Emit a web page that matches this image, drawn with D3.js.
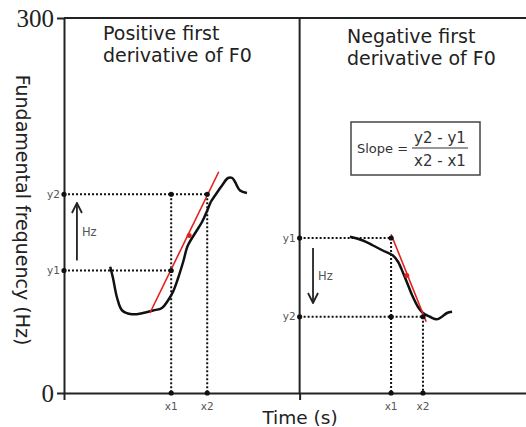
<!DOCTYPE html>
<meta charset="utf-8">
<style>
body { margin: 0; background: #fff; }
svg { font-family: "DejaVu Sans", sans-serif; }
.axis path, .axis line { stroke: #222; stroke-width: 2px; }
.frame { stroke: #222; stroke-width: 2px; fill: none; }
.guide { stroke: #111; stroke-width: 2px; stroke-dasharray: 2,2; fill: none; }
.f0 { stroke: #111; stroke-width: 2.5px; fill: none; }
.slope { stroke: #e3211c; stroke-width: 1.6px; }
.small { fill: #555; font-size: 10.5px; }
.title { fill: #222; font-size: 19px; }
</style>
<svg width="526" height="427" id="chart"></svg>
<script src="https://cdnjs.cloudflare.com/ajax/libs/d3/7.8.5/d3.min.js"></script>
<script>

// time in ms, F0 in Hz
var leftTime = [100, 106, 115, 126, 147, 171, 193, 212, 225, 236, 247, 258, 268, 284, 299, 310, 318, 327, 342, 355, 364, 370, 381, 396];
var leftF0   = [101,  92,  76,  66,  63,  64,  66,  68,  74,  81,  92, 105, 118, 128, 137, 146, 153, 158, 166, 172, 172, 169, 162, 160];

var rightTime = [619, 647, 669, 690, 712, 723, 734, 745, 755, 766, 777, 792, 807, 818, 829, 840];
var rightF0   = [125, 122, 118, 114, 110, 105,  96,  86,  77,  69,  64,  61,  59,  61,  64,  65];

var panelStart = [0, 510];
var xPoints = [[232, 310], [708, 777]];   // x1, x2 per panel
var yPoints = [[98, 159], [124, 61]];     // y1, y2 per panel
var slopeLines = [[[186, 64], [335, 177]], [[708, 127], [784, 57]]];
var slopeDots = [[271, 126], [742, 94]];
var arrows = [[28, 106, 152], [539, 116, 72]];  // time, from Hz, to Hz
var titles = [["Positive first", "derivative of F0"], ["Negative first", "derivative of F0"]];
var yTicks = [0, 300];

var svg = d3.select("svg#chart");

var x = d3.scaleLinear().domain([0, 1000]).range([64, 526]),
    y = d3.scaleLinear().domain([0, 300]).range([393, 18]);

var line = d3.line()
    .x(function(d) { return x(d[0]); })
    .y(function(d) { return y(d[1]); })
    .curve(d3.curveCatmullRom);

svg.append("defs").append("marker")
    .attr("id", "head")
    .attr("viewBox", "0 0 12 12")
    .attr("refX", 11).attr("refY", 6)
    .attr("markerWidth", 12).attr("markerHeight", 12)
    .attr("markerUnits", "userSpaceOnUse")
    .attr("orient", "auto")
  .append("path")
    .attr("d", "M1,1 L11,6 L1,11")
    .attr("fill", "none").attr("stroke", "#222").attr("stroke-width", 1.8);

// frame
svg.append("line").attr("class", "frame")
    .attr("x1", x(0)).attr("x2", x(1000)).attr("y1", y(300)).attr("y2", y(300));

svg.append("g")
    .attr("class", "axis")
    .attr("transform", "translate(0," + y(0) + ")")
    .call(d3.axisBottom(x).tickValues(panelStart).tickSize(7).tickSizeOuter(0).tickFormat(""));

svg.append("g")
    .attr("class", "axis")
    .attr("transform", "translate(" + x(0) + ",0)")
    .call(d3.axisLeft(y).tickValues(yTicks).tickSize(7).tickSizeOuter(0).tickPadding(3))
    .call(function(g) {
      g.selectAll("text")
        .attr("fill", "#222")
        .style("font-family", "'Liberation Serif', serif")
        .style("font-size", "25px")
        .attr("dy", "0.33em");
    });

svg.append("line").attr("class", "frame")
    .attr("x1", x(panelStart[1])).attr("x2", x(panelStart[1]))
    .attr("y1", y(300)).attr("y2", y(0));

// guides, curves, labels per panel
[0, 1].forEach(function(i) {
  var p0 = panelStart[i], px = xPoints[i], py = yPoints[i];
  var g = svg.append("g");

  var segs;
  if (i === 0) {
    segs = [[[p0, py[1]], [px[1], py[1]]], [[p0, py[0]], [px[0], py[0]]],
            [[px[0], py[1]], [px[0], 0]], [[px[1], py[1]], [px[1], 0]]];
  } else {
    segs = [[[p0, py[0]], [px[0], py[0]]], [[p0, py[1]], [px[1], py[1]]],
            [[px[0], py[0]], [px[0], 0]], [[px[1], py[1]], [px[1], 0]]];
  }
  g.selectAll(".guide").data(segs).enter().append("path")
      .attr("class", "guide")
      .attr("d", d3.line().x(function(d) { return x(d[0]); }).y(function(d) { return y(d[1]); }));

  var times = i === 0 ? leftTime : rightTime,
      f0 = i === 0 ? leftF0 : rightF0;
  g.append("path").attr("class", "f0")
      .attr("d", line(times.map(function(t, k) { return [t, f0[k]]; })));

  g.append("line").attr("class", "slope")
      .attr("x1", x(slopeLines[i][0][0])).attr("y1", y(slopeLines[i][0][1]))
      .attr("x2", x(slopeLines[i][1][0])).attr("y2", y(slopeLines[i][1][1]));
  g.append("circle")
      .attr("cx", x(slopeDots[i][0])).attr("cy", y(slopeDots[i][1])).attr("r", 2.5)
      .attr("fill", "#e3211c");

  var dots = i === 0
    ? [[p0, py[1]], [px[0], py[1]], [px[1], py[1]], [p0, py[0]], [px[0], py[0]], [px[0], 0], [px[1], 0]]
    : [[p0, py[0]], [px[0], py[0]], [p0, py[1]], [px[0], py[1]], [px[1], py[1]], [px[0], 0], [px[1], 0]];
  g.selectAll(".dot").data(dots).enter().append("circle")
      .attr("cx", function(d) { return x(d[0]); })
      .attr("cy", function(d) { return y(d[1]); })
      .attr("r", 2.6).attr("fill", "#111");

  g.selectAll(".ylab").data(["y1", "y2"]).enter().append("text")
      .attr("class", "small")
      .attr("x", x(p0) - 4)
      .attr("y", function(d, k) { return y(py[k]); })
      .attr("dy", "0.35em")
      .attr("text-anchor", "end")
      .text(function(d) { return d; });

  g.selectAll(".xlab").data(["x1", "x2"]).enter().append("text")
      .attr("class", "small")
      .attr("x", function(d, k) { return x(px[k]); })
      .attr("y", y(0) + 17)
      .attr("text-anchor", "middle")
      .text(function(d) { return d; });

  var a = arrows[i];
  g.append("line")
      .attr("x1", x(a[0])).attr("x2", x(a[0]))
      .attr("y1", y(a[1])).attr("y2", y(a[2]))
      .attr("stroke", "#222").attr("stroke-width", 1.8)
      .attr("marker-end", "url(#head)");
  g.append("text")
      .attr("class", "small")
      .style("font-size", "11.5px")
      .attr("x", x(a[0]) + 5)
      .attr("y", y((a[1] + a[2]) / 2))
      .attr("dy", "0.35em")
      .text("Hz");

  g.selectAll(".title").data(titles[i]).enter().append("text")
      .attr("class", "title")
      .attr("x", i === 0 ? 103 : 347)
      .attr("y", function(d, k) { return (i === 0 ? 40 : 43) + k * 22; })
      .text(function(d) { return d; });
});

// slope formula box
var box = svg.append("g").attr("transform", "translate(351,122)");
box.append("rect").attr("width", 129).attr("height", 53)
    .attr("fill", "#fff").attr("stroke", "#444").attr("stroke-width", 1.5);
box.append("text").attr("x", 6).attr("y", 31).attr("fill", "#333").style("font-size", "13px").text("Slope =");
box.append("line").attr("x1", 61).attr("x2", 117).attr("y1", 26).attr("y2", 26)
    .attr("stroke", "#333").attr("stroke-width", 1.2);
box.append("text").attr("x", 89).attr("y", 21).attr("text-anchor", "middle")
    .attr("fill", "#333").style("font-size", "15px").text("y2 - y1");
box.append("text").attr("x", 89).attr("y", 44).attr("text-anchor", "middle")
    .attr("fill", "#333").style("font-size", "15px").text("x2 - x1");

// axis titles
svg.append("text")
    .attr("transform", "translate(16,210) rotate(90)")
    .attr("text-anchor", "middle")
    .attr("fill", "#222")
    .style("font-size", "19px")
    .text("Fundamental frequency (Hz)");

svg.append("text")
    .attr("x", 300).attr("y", 424)
    .attr("text-anchor", "middle")
    .attr("fill", "#222")
    .style("font-size", "18.5px")
    .text("Time (s)");

</script>
